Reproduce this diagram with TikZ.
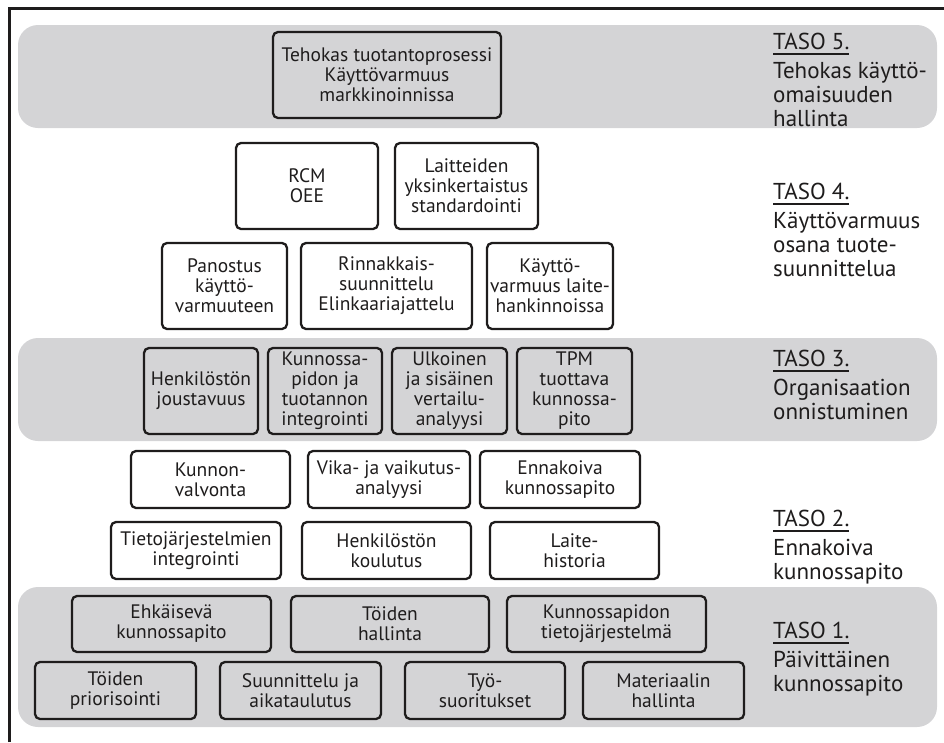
\documentclass[tikz,border=0pt]{standalone}
\usepackage{fontspec}
\setmainfont{PT Sans}
\definecolor{bandgray}{RGB}{212,212,214}
\definecolor{ink}{RGB}{30,28,28}
% underlined level title
\newcommand\tasoul[1]{\setbox0\hbox{#1}\rlap{\rule[-6pt]{\wd0}{2pt}}\box0}
% box given by its corners: [style]{x1}{y1}{x2}{y2}{name}{text}
\newcommand\lvlbox[7][]{%
  \node[box,#1,minimum width={(#4-#2)*1pt},minimum height={(#5-#3)*1pt}]
    (#6) at ({(#2+#4)/2},{(#3+#5)/2}) {#7};}
\begin{document}
\begin{tikzpicture}[x=1pt,y=-1pt,
  box/.style={draw=ink, line width=2.3pt, rounded corners=5pt, fill=white,
    align=center, inner sep=0pt, text=ink, font=\fontsize{19.5}{20}\selectfont},
  graybox/.style={fill=bandgray},
  band/.style={fill=bandgray, rounded corners=20pt},
  lbl/.style={anchor=base west, inner sep=0pt, text=ink,
    font=\fontsize{23}{24}\selectfont}]
\useasboundingbox (0,0) rectangle (944,742);

% frame
\draw[ink, line width=2.6pt] (9.5,742) -- (9.5,8.5) -- (944,8.5);

% level bands
\fill[band] (18,25) rectangle (937,128);
\fill[band] (18,338) rectangle (937,441);
\fill[band] (18,587) rectangle (937,727);

% level 5
\lvlbox[graybox]{273}{32}{501}{118}{b5}{Tehokas tuotantoprosessi\\Käyttövarmuus\\markkinoinnissa}

% level 4
\lvlbox{236}{143}{378}{229}{r4a}{RCM\\OEE}
\lvlbox{395}{143}{538}{229}{r4b}{Laitteiden\\yksinkertaistus\\standardointi}
\lvlbox{162}{243}{287}{329}{r4c}{Panostus\\käyttö-\\varmuuteen}
\lvlbox{301}{243}{472}{329}{r4d}{Rinnakkais-\\suunnittelu\\Elinkaariajattelu}
\lvlbox{487}{243}{613}{329}{r4e}{Käyttö-\\varmuus laite-\\hankinnoissa}

% level 3
\lvlbox[graybox]{144}{348}{258}{434}{t3a}{Henkilöstön\\joustavuus}
\lvlbox[graybox]{268}{348}{382}{434}{t3b}{Kunnossa-\\pidon ja\\tuotannon\\integrointi}
\lvlbox[graybox]{392}{348}{507}{434}{t3c}{Ulkoinen\\ja sisäinen\\vertailu-\\analyysi}
\lvlbox[graybox]{517}{348}{632}{434}{t3d}{TPM\\tuottava\\kunnossa-\\pito}

% level 2
\lvlbox{131}{451}{290}{508}{t2a}{Kunnon-\\valvonta}
\lvlbox{308}{451}{470}{508}{t2b}{Vika- ja vaikutus-\\analyysi}
\lvlbox{480}{451}{640}{508}{t2c}{Ennakoiva\\kunnossapito}
\lvlbox{111}{522}{281}{579}{t2d}{Tietojärjestelmien\\integrointi}
\lvlbox{302}{522}{471}{579}{t2e}{Henkilöstön\\koulutus}
\lvlbox{490}{522}{659}{579}{t2f}{Laite-\\historia}

% level 1
\lvlbox[graybox]{72}{596}{271}{652}{t1a}{Ehkäisevä\\kunnossapito}
\lvlbox[graybox]{291}{596}{489}{652}{t1b}{Töiden\\hallinta}
\lvlbox[graybox]{507}{596}{706}{652}{t1c}{Kunnossapidon\\tietojärjestelmä}
\lvlbox[graybox]{35}{662}{196}{719}{t1d}{Töiden\\priorisointi}
\lvlbox[graybox]{220}{662}{381}{719}{t1e}{Suunnittelu ja\\aikataulutus}
\lvlbox[graybox]{405}{662}{565}{719}{t1f}{Työ-\\suoritukset}
\lvlbox[graybox]{583}{662}{744}{719}{t1g}{Materiaalin\\hallinta}

% level titles
\node[lbl] (L5) at (773,49) {\begin{tabular}[t]{@{}l@{}}\tasoul{TASO 5.}\\[5pt]Tehokas käyttö-\\omaisuuden\\hallinta\end{tabular}};
\node[lbl] (L4) at (773,199) {\begin{tabular}[t]{@{}l@{}}\tasoul{TASO 4.}\\[5pt]Käyttövarmuus\\osana tuote-\\suunnittelua\end{tabular}};
\node[lbl] (L3) at (773,366) {\begin{tabular}[t]{@{}l@{}}\tasoul{TASO 3.}\\[5pt]Organisaation\\onnistuminen\end{tabular}};
\node[lbl] (L2) at (773,526) {\begin{tabular}[t]{@{}l@{}}\tasoul{TASO 2.}\\[5pt]Ennakoiva\\kunnossapito\end{tabular}};
\node[lbl] (L1) at (773,638) {\begin{tabular}[t]{@{}l@{}}\tasoul{TASO 1.}\\[5pt]Päivittäinen\\kunnossapito\end{tabular}};
\end{tikzpicture}
\end{document}
